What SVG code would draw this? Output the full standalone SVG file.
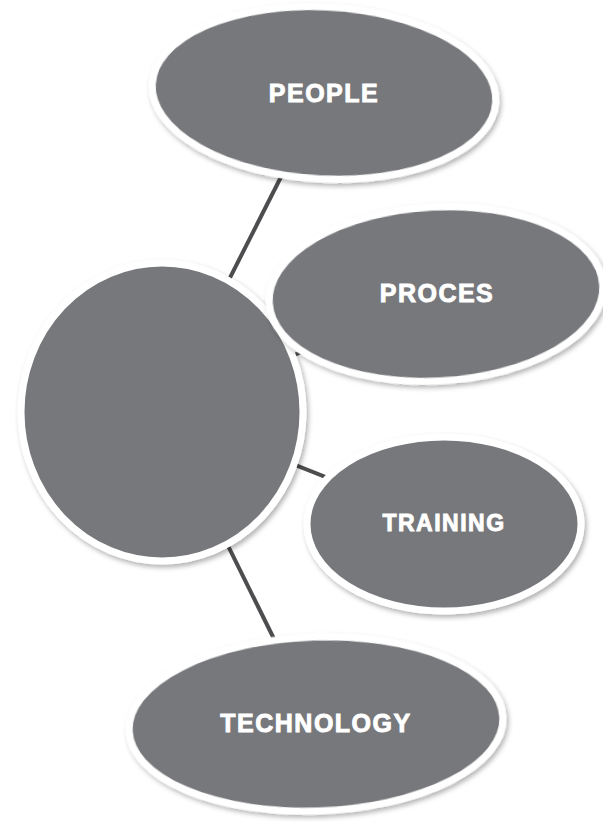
<svg xmlns="http://www.w3.org/2000/svg" width="603" height="822" viewBox="0 0 603 822">
<defs>
<filter id="sh" x="-10%" y="-10%" width="125%" height="130%">
<feDropShadow dx="2" dy="3" stdDeviation="2.5" flood-color="#000" flood-opacity="0.3"/>
</filter>
<style>
.node{fill:#77787b;stroke:#ffffff;stroke-width:7;filter:url(#sh)}
.lbl{font-family:"Liberation Sans",Arial,sans-serif;font-weight:bold;fill:#ffffff;stroke:#ffffff;stroke-width:0.9;text-anchor:middle;dominant-baseline:central;letter-spacing:1.5px}
.conn{stroke:#4d4d4f;stroke-width:4;fill:none}
</style>
</defs>
<rect width="603" height="822" fill="#ffffff"/>
<g id="connectors">
<line class="conn" x1="162" y1="412" x2="324" y2="92"/>
<line class="conn" x1="162" y1="412" x2="436" y2="294"/>
<line class="conn" x1="162" y1="412" x2="444" y2="524"/>
<line class="conn" x1="162" y1="412" x2="316" y2="724"/>
</g>
<g id="center">
<ellipse class="node" cx="162" cy="412" rx="141" ry="149"/>
</g>
<g id="people">
<ellipse class="node" cx="324" cy="93" rx="172" ry="86" transform="rotate(3 324 93)"/>
<text class="lbl" x="324" y="93" font-size="25">PEOPLE</text>
</g>
<g id="proces">
<ellipse class="node" cx="436" cy="294" rx="167" ry="87" transform="rotate(-3 436 294)"/>
<text class="lbl" x="437" y="293" font-size="25">PROCES</text>
</g>
<g id="training">
<ellipse class="node" cx="444" cy="524" rx="137" ry="87"/>
<text class="lbl" x="444" y="523" font-size="23">TRAINING</text>
</g>
<g id="technology">
<ellipse class="node" cx="316" cy="724" rx="187" ry="87" transform="rotate(-2 316 724)"/>
<text class="lbl" x="316" y="723" font-size="25">TECHNOLOGY</text>
</g>
</svg>
